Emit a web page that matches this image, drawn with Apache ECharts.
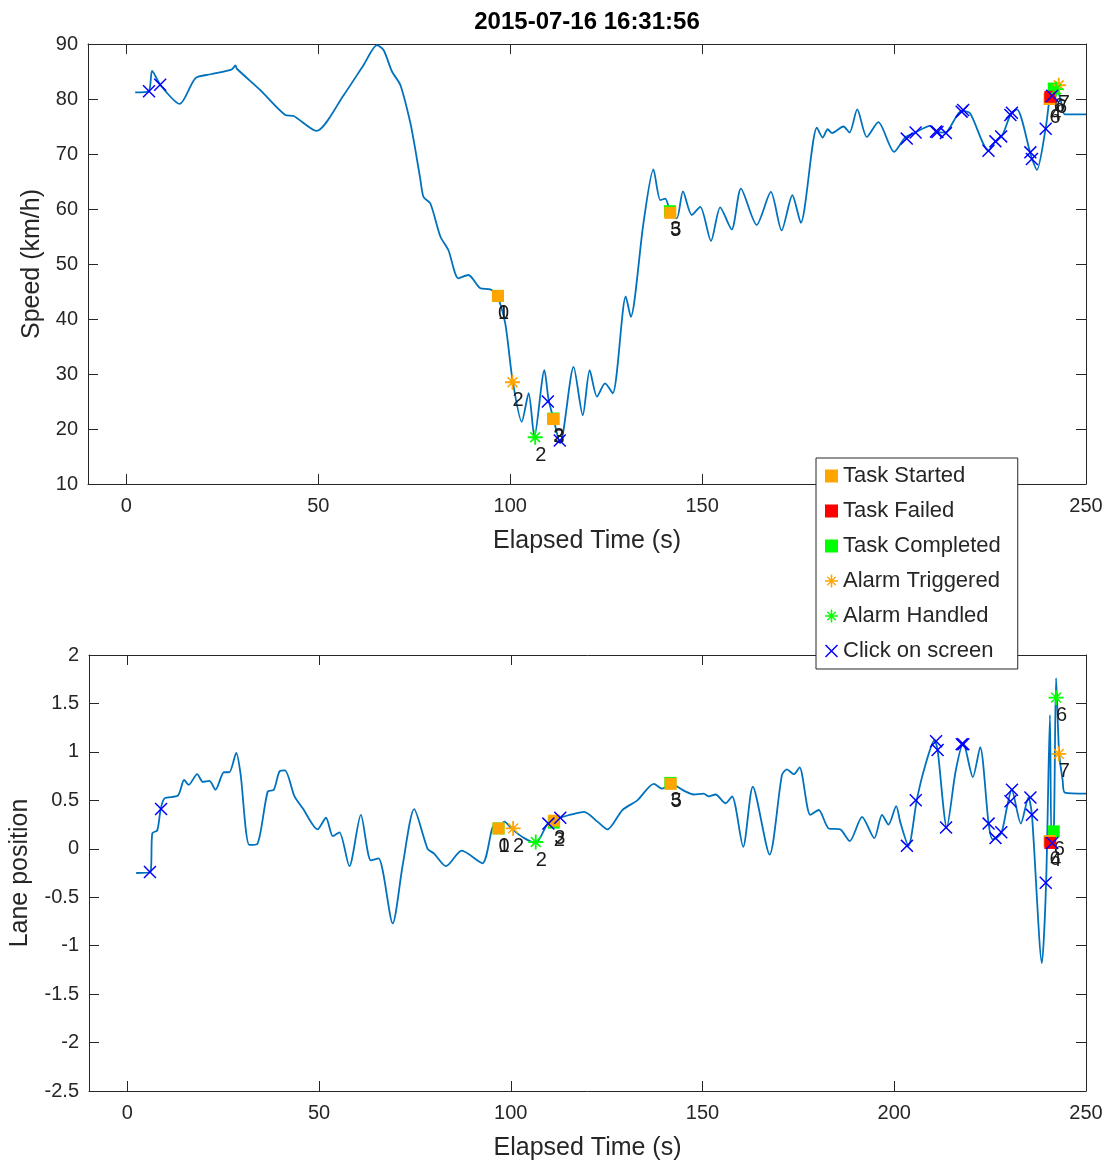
<!DOCTYPE html>
<html><head><meta charset="utf-8">
<script src="https://cdn.jsdelivr.net/npm/echarts@6/dist/echarts.min.js"></script>
<style>html,body{margin:0;padding:0;background:#fff}#c{width:1107px;height:1168px}</style>
</head><body><div id="c"></div>
<script>
// ---------------- DATA ----------------
const titleText = '2015-07-16 16:31:56';
const xTicks = [0, 50, 100, 150, 200, 250];

const speedTime = [2.3, 5.8, 6.7, 8.9, 13.9, 18.0, 22.0, 27.5, 28.4, 28.8, 34.9, 41.4, 43.6, 49.5, 56.6, 61.8, 65.3, 67.0, 69.2, 71.4,
  74.0, 75.3, 76.6, 77.4, 79.2, 81.8, 83.9, 86.5, 89.1, 92.2, 94.8, 96.5, 98.7, 100.6, 103.0, 104.8, 106.3, 108.9, 110.0, 111.3,
  113.0, 116.5, 118.9, 120.7, 122.6, 124.7, 126.7, 130.1, 131.4, 134.7, 137.3, 139.1, 140.4, 141.7, 143.4, 145.0, 147.3, 149.5, 152.3, 154.7,
  157.7, 160.1, 164.2, 167.9, 170.7, 173.5, 175.7, 179.9, 181.4, 182.7, 183.8, 186.8, 188.4, 190.4, 192.9, 195.9, 200.0, 202.9, 205.5, 209.4,
  211.1, 213.3, 217.6, 219.8, 224.6, 226.3, 227.8, 228.6, 230.5, 232.0, 235.4, 235.9, 237.2, 239.5, 240.6, 241.5, 242.3, 243.5, 244.5, 250.0];
const speedValue = [81.2, 81.4, 85.1, 82.5, 79.1, 83.8, 84.5, 85.4, 86.1, 85.5, 81.6, 77.1, 76.9, 74.2, 80.7, 86.2, 89.8, 88.9, 85.0, 82.5,
  75.6, 70.7, 65.3, 62.2, 61.0, 55.0, 52.5, 47.4, 48.0, 45.6, 45.4, 44.4, 39.2, 28.9, 21.3, 26.5, 18.6, 30.7, 25.3, 21.8,
  17.4, 31.3, 22.5, 30.7, 25.9, 28.3, 26.5, 44.1, 40.4, 57.4, 67.2, 61.6, 61.9, 59.5, 58.3, 63.2, 58.9, 60.4, 54.2, 60.3,
  56.3, 63.7, 57.1, 63.1, 56.1, 62.5, 57.5, 74.8, 73.0, 74.5, 73.8, 75.0, 73.9, 78.1, 73.1, 75.8, 70.4, 73.0, 73.9, 75.1,
  74.1, 73.9, 77.9, 77.4, 70.6, 72.2, 73.1, 74.0, 77.4, 78.1, 70.4, 69.2, 67.1, 74.7, 80.4, 81.9, 82.0, 79.5, 77.2, 77.2];

const laneTime = [2.3, 6.0, 6.5, 7.8, 8.7, 9.7, 13.2, 14.8, 16.0, 18.2, 19.7, 21.4, 23.0, 25.2, 26.6, 28.4, 29.5, 31.8, 33.9, 36.6,
  38.2, 39.7, 41.1, 43.6, 45.7, 49.6, 51.8, 53.6, 55.3, 57.9, 60.9, 63.5, 65.5, 69.2, 71.8, 74.8, 78.3, 80.0, 83.1, 87.2,
  92.6, 95.6, 96.8, 98.3, 100.4, 103.5, 106.5, 109.6, 111.3, 112.8, 116.5, 119.1, 122.6, 125.2, 129.1, 133.0, 137.3, 139.5, 141.7, 145.6,
  147.7, 150.3, 151.6, 153.4, 156.0, 157.7, 160.6, 163.1, 167.5, 170.7, 172.0, 173.8, 175.3, 178.1, 180.3, 182.9, 185.9, 188.4, 191.6, 194.8,
  196.8, 198.5, 200.5, 201.6, 203.7, 205.9, 208.0, 210.5, 211.3, 213.7, 216.0, 218.0, 220.5, 222.4, 224.6, 225.6, 226.6, 228.0, 229.5, 230.6,
  233.0, 235.0, 235.9, 238.5, 239.6, 240.6, 241.0, 241.6, 242.2, 243.0, 243.9, 244.5, 250.0];
const laneValue = [-0.25, -0.24, 0.16, 0.19, 0.41, 0.52, 0.55, 0.71, 0.66, 0.77, 0.69, 0.70, 0.61, 0.79, 0.79, 0.99, 0.78, 0.04, 0.05, 0.59,
  0.61, 0.80, 0.81, 0.54, 0.42, 0.20, 0.32, 0.13, 0.17, -0.18, 0.35, -0.12, -0.10, -0.77, -0.17, 0.41, 0.00, -0.05, -0.18, -0.02,
  -0.15, 0.24, 0.21, 0.28, 0.20, 0.11, 0.06, 0.26, 0.29, 0.32, 0.36, 0.38, 0.28, 0.20, 0.40, 0.50, 0.67, 0.62, 0.67, 0.59,
  0.56, 0.57, 0.54, 0.56, 0.47, 0.54, 0.02, 0.64, -0.06, 0.76, 0.82, 0.77, 0.84, 0.35, 0.40, 0.21, 0.20, 0.08, 0.33, 0.11,
  0.35, 0.25, 0.44, 0.27, 0.03, 0.51, 0.85, 1.12, 1.02, 0.22, 0.80, 1.09, 0.74, 1.05, 0.26, 0.10, 0.11, 0.17, 0.45, 0.61,
  0.26, 0.53, 0.35, -1.18, -0.35, 1.38, 0.08, 0.15, 1.76, 0.98, 0.71, 0.58, 0.57];

const startedTime = [96.8, 111.3, 141.7, 240.5];
const startedLabel = ['1', '3', '5', '6'];
const startedSpeed = [44.2, 21.8, 59.3, 80.0];
const startedLane = [0.21, 0.29, 0.67, 0.08];

const failedTime = [240.7];
const failedLabel = ['4'];
const failedSpeed = [80.4];
const failedLane = [0.06];

const completedTime = [96.8, 111.2, 141.6, 241.6];
const completedLabel = ['0', '2', '3', '6'];
const completedSpeed = [44.2, 21.9, 59.6, 81.9];
const completedLane = [0.21, 0.27, 0.68, 0.18];

const trigTime = [100.6, 242.9];
const trigLabel = ['2', '7'];
const trigSpeed = [28.5, 82.5];
const trigLane = [0.21, 0.98];

const handTime = [106.5, 242.2];
const handLabel = ['2', '6'];
const handSpeed = [18.5, 81.8];
const handLane = [0.07, 1.56];

const clickTime = [5.9, 8.8, 109.8, 112.9, 203.3, 205.6, 210.9, 211.3, 213.5, 217.6, 218.0, 224.6, 226.4, 227.9, 230.3, 230.7, 235.5, 235.9, 239.5, 241.2];
const clickSpeed = [81.4, 82.6, 25.0, 17.9, 72.8, 73.9, 74.1, 74.0, 73.8, 77.7, 78.0, 70.6, 72.3, 73.2, 77.1, 77.5, 70.3, 69.1, 74.6, 80.6];
const clickLane = [-0.24, 0.41, 0.26, 0.32, 0.03, 0.50, 1.11, 1.02, 0.22, 1.08, 1.08, 0.26, 0.11, 0.17, 0.49, 0.61, 0.53, 0.35, -0.35, 0.06];

// ---------------- STYLE ----------------
const FONT = '"Liberation Sans", Arial, Helvetica, sans-serif';
const AX = '#262626';
const XP = 'path://M1.6,0L20,18.4L18.4,20L0,1.6Z M18.4,0L20,1.6L1.6,20L0,18.4Z';
const STAR = 'path://M0,8.8L20,8.8L20,11.2L0,11.2Z M8.8,0L11.2,0L11.2,20L8.8,20Z M4.2,2.8L17.2,15.8L15.8,17.2L2.8,4.2Z M15.8,2.8L17.2,4.2L4.2,17.2L2.8,15.8Z';

const zip = (a, b) => a.map((v, i) => [v, b[i]]);
const zipL = (a, b, l) => a.map((v, i) => ({ value: [v, b[i]], name: l[i] }));

const lbl = { show: true, formatter: '{b}', position: ['50%', '50%'], align: 'left', verticalAlign: 'middle',
  offset: [0, 18], fontSize: 20, color: '#1a1a1a', fontFamily: FONT };

function markerSeries(name, data, xi, symbol, size, color, z, withLabel) {
  return { type: 'scatter', name, xAxisIndex: xi, yAxisIndex: xi, data, symbol, symbolSize: size,
    itemStyle: { color, opacity: 1 }, z, label: withLabel ? lbl : { show: false }, silent: true, animation: false,
    emphasis: { disabled: true } };
}

function seriesFor(xi, lineT, lineV) {
  const pick = (s, l) => xi === 0 ? s : l;
  return [
    { type: 'line', name: xi === 0 ? 'Speed' : 'Lane', xAxisIndex: xi, yAxisIndex: xi, data: zip(lineT, lineV),
      showSymbol: false, smooth: 0.25, lineStyle: { color: '#0072BD', width: 1.8 }, z: 1, silent: true, animation: false },
    markerSeries('Task Completed', zipL(completedTime, pick(completedSpeed, completedLane), completedLabel), xi, 'rect', 12, '#00FF00', 2, true),
    markerSeries('Task Started', zipL(startedTime, pick(startedSpeed, startedLane), startedLabel), xi, 'rect', 12, '#FFA500', 3, true),
    markerSeries('Task Failed', zipL(failedTime, pick(failedSpeed, failedLane), failedLabel), xi, 'rect', 12, '#FF0000', 4, true),
    markerSeries('Alarm Triggered', zipL(trigTime, pick(trigSpeed, trigLane), trigLabel), xi, STAR, 15, '#FFA500', 5, true),
    markerSeries('Alarm Handled', zipL(handTime, pick(handSpeed, handLane), handLabel), xi, STAR, 15, '#00FF00', 5, true),
    markerSeries('Click on screen', zip(clickTime, pick(clickSpeed, clickLane)), xi, XP, 13, '#0000FF', 6, false)
  ];
}

function xAx(gi, pos, showName) {
  return { gridIndex: gi, type: 'value', min: -10, max: 250, position: pos,
    axisLine: { show: true, onZero: false, lineStyle: { color: AX, width: 1 } },
    axisTick: { show: true, inside: true, length: 10, customValues: xTicks, lineStyle: { color: AX, width: 1 } },
    axisLabel: { show: showName, customValues: xTicks, margin: 12, fontSize: 20, color: AX, fontFamily: FONT, showMinLabel: true, showMaxLabel: true },
    splitLine: { show: false },
    name: showName ? 'Elapsed Time (s)' : '', nameLocation: 'middle', nameGap: 45,
    nameTextStyle: { fontSize: 25, color: AX, fontFamily: FONT } };
}
function yAx(gi, pos, min, max, interval, name, nameGap) {
  const show = pos === 'left';
  return { gridIndex: gi, type: 'value', min, max, interval, position: pos,
    axisLine: { show: true, onZero: false, lineStyle: { color: AX, width: 1 } },
    axisTick: { show: true, inside: true, length: 10, lineStyle: { color: AX, width: 1 } },
    axisLabel: { show, margin: 10, fontSize: 20, color: AX, fontFamily: FONT, showMinLabel: true, showMaxLabel: true },
    splitLine: { show: false },
    name: show ? name : '', nameLocation: 'middle', nameGap, nameRotate: 90,
    nameTextStyle: { fontSize: 25, color: AX, fontFamily: FONT } };
}

const chart = echarts.init(document.getElementById('c'), null, { renderer: 'canvas' });
chart.setOption({
  animation: false,
  backgroundColor: '#fff',
  graphic: [{ type: 'text', x: 587, y: 22, style: { text: titleText, font: 'bold 24px ' + FONT, fill: '#000',
    align: 'center', verticalAlign: 'middle', textAlign: 'center', textVerticalAlign: 'middle' } }],
  grid: [
    { left: 88, top: 44, width: 998, height: 440, show: false },
    { left: 88, top: 655, width: 998, height: 436, show: false }
  ],
  xAxis: [xAx(0, 'bottom', true), xAx(0, 'top', false), xAx(1, 'bottom', true), xAx(1, 'top', false)],
  yAxis: [yAx(0, 'left', 10, 90, 10, 'Speed (km/h)', 42), yAx(0, 'right', 10, 90, 10, '', 0),
          yAx(1, 'left', -2.5, 2, 0.5, 'Lane position', 56), yAx(1, 'right', -2.5, 2, 0.5, '', 0)],
  legend: {
    data: [
      { name: 'Task Started', icon: 'rect' },
      { name: 'Task Failed', icon: 'rect' },
      { name: 'Task Completed', icon: 'rect' },
      { name: 'Alarm Triggered', icon: STAR },
      { name: 'Alarm Handled', icon: STAR },
      { name: 'Click on screen', icon: XP }
    ],
    orient: 'vertical', left: 816, top: 458, itemWidth: 13, itemHeight: 13, itemGap: 11,
    padding: [6, 17, 6, 9], borderColor: AX, borderWidth: 1, backgroundColor: '#fff',
    textStyle: { fontSize: 22, lineHeight: 24, color: AX, fontFamily: FONT }, selectedMode: false, z: 20
  },
  series: [].concat(
    seriesFor(0, speedTime, speedValue),
    seriesFor(2, laneTime, laneValue)
  ).map(s => { if (s.xAxisIndex === 2) { s.yAxisIndex = 2; } return s; })
});
</script></body></html>
